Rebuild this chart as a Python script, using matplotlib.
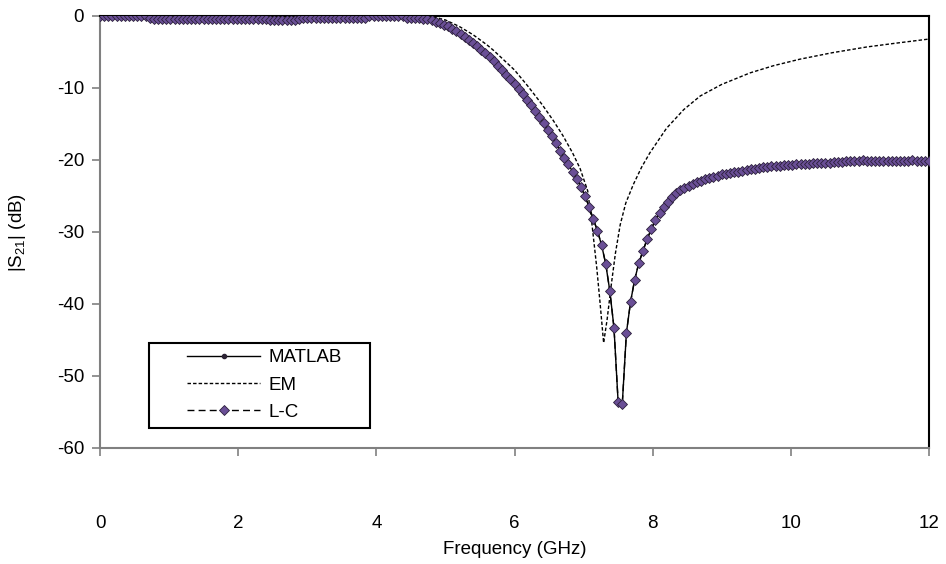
import numpy as np
import matplotlib
matplotlib.use("Agg")
import matplotlib.pyplot as plt
from matplotlib.patches import Rectangle

plt.rcParams['font.family'] = ['Liberation Sans', 'DejaVu Sans']
plt.rcParams['axes.unicode_minus'] = False

# frequency grid of the marked curves (201 samples, 0..12 GHz)
freq = np.linspace(0, 12, 201)

# MATLAB |S21| in dB (10 samples per row = 0.6 GHz)
matlab_db = [
    0.0, 0.0, -0.05, 0.0, -0.05, -0.05, 0.0, -0.05, -0.05, -0.05,
    -0.05, -0.05, -0.3, -0.35, -0.4, -0.4, -0.4, -0.4, -0.4, -0.4,
    -0.4, -0.4, -0.35, -0.4, -0.4, -0.4, -0.4, -0.4, -0.4, -0.4,
    -0.4, -0.4, -0.4, -0.4, -0.4, -0.4, -0.4, -0.35, -0.4, -0.4,
    -0.45, -0.55, -0.55, -0.55, -0.55, -0.55, -0.55, -0.55, -0.35, -0.3,
    -0.3, -0.3, -0.3, -0.3, -0.3, -0.3, -0.3, -0.3, -0.3, -0.3,
    -0.3, -0.3, -0.3, -0.3, -0.3, 0.05, 0.05, 0.05, 0.05, 0.05,
    0.05, 0.05, 0.05, 0.0, -0.3, -0.3, -0.3, -0.3, -0.35, -0.45,
    -0.6, -0.8, -1.0, -1.2, -1.45, -1.75, -2.1, -2.45, -2.85, -3.3,
    -3.75, -4.2, -4.7, -5.2, -5.75, -6.3, -6.9, -7.5, -8.15, -8.8,
    -9.5, -10.2, -10.9, -11.65, -12.4, -13.2, -14.0, -14.9, -15.8, -16.7,
    -17.7, -18.7, -19.7, -20.6, -21.6, -22.6, -23.7, -25.0, -26.5, -28.2,
    -29.8, -31.8, -34.4, -38.2, -43.3, -53.6, -53.9, -44.0, -39.7, -36.6,
    -34.3, -32.6, -31.0, -29.6, -28.3, -27.3, -26.5, -25.8, -25.1, -24.6,
    -24.2, -23.9, -23.6, -23.3, -23.1, -22.9, -22.7, -22.5, -22.3, -22.2,
    -22.0, -21.9, -21.8, -21.7, -21.6, -21.5, -21.4, -21.3, -21.2, -21.1,
    -21.0, -20.95, -20.9, -20.85, -20.8, -20.75, -20.7, -20.65, -20.6, -20.55,
    -20.5, -20.5, -20.45, -20.4, -20.4, -20.35, -20.35, -20.3, -20.3, -20.3,
    -20.1, -20.1, -20.1, -20.1, -20.05, -20.1, -20.1, -20.1, -20.1, -20.1,
    -20.1, -20.1, -20.1, -20.1, -20.1, -20.1, -20.05, -20.1, -20.1, -20.1,
    -20.1,
]
# L-C model sits on top of the MATLAB curve in the picture
lc_db = list(matlab_db)

# EM simulation (dashed line without markers)
em_freq = [0.0, 4.5, 4.7, 4.9, 5.0, 5.2, 5.4, 5.6, 5.7, 5.9, 6.0, 6.19, 6.4,
           6.56, 6.7, 6.84, 6.95, 7.06, 7.12, 7.19, 7.24, 7.29, 7.34, 7.40,
           7.46, 7.53, 7.61, 7.72, 7.84, 7.96, 8.2, 8.45, 8.69, 9.0, 9.41,
           9.75, 10.13, 10.6, 11.1, 11.5, 12.0]
em_db = [0.0, 0.0, 0.0, -0.3, -0.55, -1.45, -2.6, -4.0, -4.8, -6.6, -7.5,
         -9.7, -12.3, -14.5, -16.6, -19.0, -21.2, -24.3, -28.8, -34.9, -40.0,
         -45.4, -42.2, -37.4, -33.0, -29.0, -26.0, -23.4, -21.0, -19.0, -15.6,
         -13.0, -11.1, -9.5, -7.9, -6.9, -6.0, -5.1, -4.3, -3.8, -3.2]

fs = 13.5

fig = plt.figure(figsize=(9.46, 5.64), dpi=100)
ax = fig.add_axes([100 / 946, 116 / 564, 829 / 946, 432 / 564])

ax.plot(freq, matlab_db, '-', color='black', lw=1.0, marker='o', ms=3,
        mfc='#2b2233', mec='#2b2233', label='MATLAB', zorder=3)
ax.plot(em_freq, em_db, color='black', lw=1.0, linestyle=(0, (2.5, 1.5)),
        label='EM', zorder=2)
ax.plot(freq, lc_db, color='black', lw=1.0, linestyle=(0, (5, 3)),
        marker='D', ms=4.8, mfc='#6a4f96', mec='#2b1f3a', mew=0.6,
        label='L-C', zorder=4)

ax.set_xlim(0, 12)
ax.set_ylim(-60, 0)
ax.set_xticks(range(0, 13, 2))
ax.set_yticks(range(-60, 1, 10))

for side in ['left', 'bottom']:
    ax.spines[side].set_color('#808080')
    ax.spines[side].set_linewidth(1.5)
for side in ['top', 'right']:
    ax.spines[side].set_color('black')
    ax.spines[side].set_linewidth(1.5)

ax.tick_params(axis='y', length=6, width=1.2, color='#808080', pad=5.5,
               labelsize=fs)
ax.tick_params(axis='x', length=6, width=1.2, color='#808080', pad=42,
               labelsize=fs)

ax.set_xlabel('Frequency (GHz)', fontsize=fs, va='center')
ax.xaxis.set_label_coords(0.5, -0.234)
ax.set_ylabel(r'|S$_{\mathregular{21}}$| (dB)', fontsize=fs)
ax.yaxis.set_label_coords(-0.087, 0.5)

# legend box drawn as its own frame, entries placed inside it
box = Rectangle((49 / 829, 20 / 432), 221 / 829, 85 / 432,
                transform=ax.transAxes, facecolor='white', edgecolor='black',
                lw=1.5, zorder=6)
ax.add_patch(box)
leg = ax.legend(loc='upper left', bbox_to_anchor=(87 / 829, 99 / 432),
                frameon=False, fontsize=fs, numpoints=1,
                handlelength=3.9, handletextpad=0.45, borderpad=0,
                labelspacing=0.55, borderaxespad=0)
leg.set_zorder(7)

fig.savefig('out.png', dpi=100)
